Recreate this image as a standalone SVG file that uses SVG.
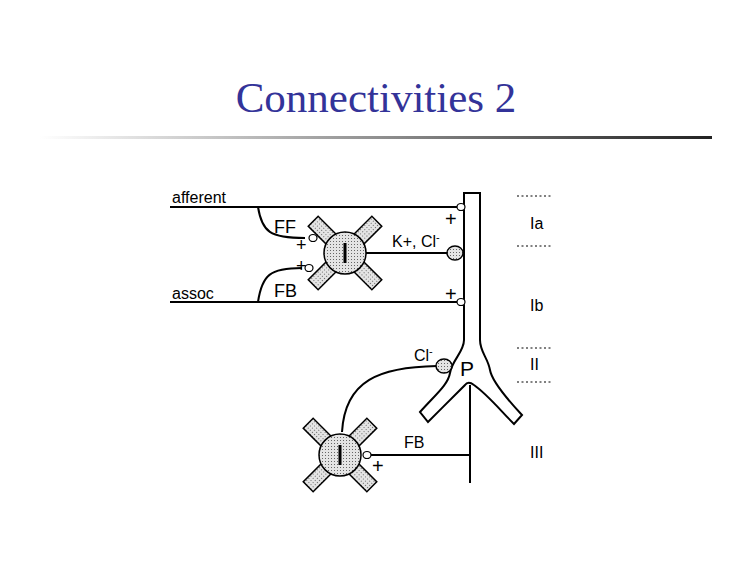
<svg xmlns="http://www.w3.org/2000/svg" width="751" height="563" viewBox="0 0 751 563">
<defs>
<linearGradient id="g" x1="0" x2="1"><stop offset="0" stop-color="#fff"/><stop offset="1" stop-color="#222"/></linearGradient>
<pattern id="dots" width="3" height="3" patternUnits="userSpaceOnUse"><rect width="3" height="3" fill="#e4e4e4"/><rect width="1" height="1" fill="#666"/></pattern>
<style>
.ln{fill:none;stroke:#000;stroke-width:2}
.t{font-family:"Liberation Sans",Arial,sans-serif;font-size:16px;fill:#000}
.arm{fill:url(#dots);stroke:#000;stroke-width:1.5}
.syn{fill:#fff;stroke:#000;stroke-width:1.2}
.inh{fill:url(#dots);stroke:#000;stroke-width:1.5}
.dot{stroke:#000;stroke-width:1;stroke-dasharray:2 2.5}
</style>
</defs>
<rect width="751" height="563" fill="#fff"/>
<text x="376" y="112" text-anchor="middle" font-family="Liberation Serif,serif" font-size="43" fill="#333399">Connectivities 2</text>
<rect x="40" y="136" width="672" height="3" fill="url(#g)"/>
<g id="connectors">
<path class="ln" d="M170 207H458M170 302H458"/>
<path class="ln" d="M258 207C262 232 270 238 305 238"/>
<path class="ln" d="M258 302C262 275 270 268 302 268"/>
<path class="ln" d="M366 253H448"/>
<path class="ln" d="M342 432C345 380 380 367 437 366"/>
<path class="ln" d="M370 455H470M470 385V483"/>
</g>
<g id="P">
<path d="M464 193H480V340C480 352 488 358 490 370C492 382 508 400 522 415L514 424C500 410 488 395 474 385C470 382 467 382 465 385C455 395 440 410 428 422L420 412C435 395 448 385 450 373C452 360 464 352 464 340Z" fill="#fff" stroke="#000" stroke-width="2"/>
<text class="t" x="460" y="376" style="font-size:21px">P</text>
</g>
<g id="I1">
<g transform="translate(345,253)"><rect class="arm" x="-45" y="-7" width="90" height="14" transform="rotate(45)"/><rect class="arm" x="-45" y="-7" width="90" height="14" transform="rotate(-45)"/><circle r="21" class="arm"/><rect x="-1.5" y="-10" width="3" height="20" fill="#000"/></g>
</g>
<g id="I2">
<g transform="translate(340,455)"><rect class="arm" x="-45" y="-7" width="90" height="14" transform="rotate(45)"/><rect class="arm" x="-45" y="-7" width="90" height="14" transform="rotate(-45)"/><circle r="21" class="arm"/><rect x="-1.5" y="-10" width="3" height="20" fill="#000"/></g>
</g>
<g id="synapses">
<ellipse class="syn" cx="461" cy="207" rx="4" ry="3.5"/>
<ellipse class="syn" cx="461" cy="302" rx="4" ry="3.5"/>
<ellipse class="syn" cx="313" cy="238" rx="4" ry="3.5"/>
<ellipse class="syn" cx="309" cy="268" rx="4" ry="3.5"/>
<ellipse class="syn" cx="367" cy="455" rx="4" ry="3.5"/>
<ellipse class="inh" cx="455" cy="253" rx="8" ry="7"/>
<ellipse class="inh" cx="444" cy="366" rx="8" ry="7"/>
</g>
<g id="labels">
<text class="t" x="172" y="203">afferent</text>
<text class="t" x="172" y="299">assoc</text>
<text class="t" x="274" y="233" style="font-size:18px">FF</text>
<text class="t" x="274" y="297" style="font-size:18px">FB</text>
<text class="t" x="445" y="226" style="font-size:20px">+</text>
<text class="t" x="445" y="301" style="font-size:20px">+</text>
<text class="t" x="296" y="251" style="font-size:18px">+</text>
<text class="t" x="296" y="272" style="font-size:18px">+</text>
<text class="t" x="372" y="473" style="font-size:20px">+</text>
<text class="t" x="392" y="247">K+, Cl<tspan style="font-size:11px" dy="-6">-</tspan></text>
<text class="t" x="414" y="361">Cl<tspan style="font-size:11px" dy="-6">-</tspan></text>
<text class="t" x="404" y="448">FB</text>
<text class="t" x="530" y="229">Ia</text>
<text class="t" x="530" y="311">Ib</text>
<text class="t" x="530" y="370">II</text>
<text class="t" x="530" y="458">III</text>
<path class="dot" d="M517 196H551M517 246H551M517 348H551M517 382H551"/>
</g>
</svg>
